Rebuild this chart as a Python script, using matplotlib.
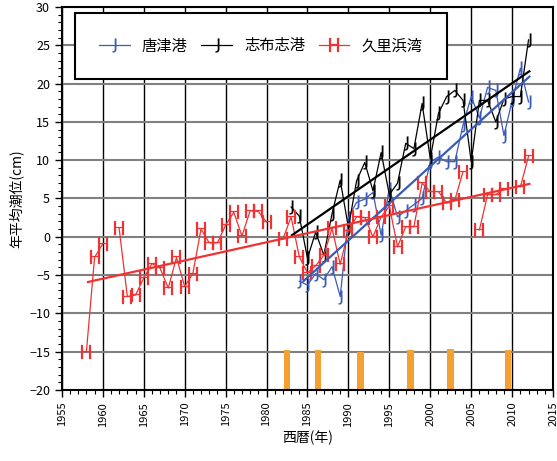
import numpy as np
import matplotlib
matplotlib.use('Agg')
import matplotlib.pyplot as plt
from matplotlib.ticker import MultipleLocator

plt.rcParams['font.family'] = ['Noto Sans CJK JP', 'DejaVu Sans']
plt.rcParams['axes.unicode_minus'] = True

# 唐津港
karatsu_years = list(range(1984, 2013))
karatsu = [-5.8, -6.3, -4.8, -5.6, -3.9, -7.8, 2.5, 4.5, 4.9, 5.8,
           0.2, 6.3, 2.6, 3.4, 4.2, 5.0, 9.8, 10.4, 9.8, 9.8,
           14.6, 18.3, 15.5, 19.5, 19.1, 13.2, 17.8, 22.0, 17.6]

# 志布志港
shibushi_years = list(range(1983, 2013))
shibushi = [3.9, 2.7, -2.8, 0.6, -2.4, 3.0, 7.4, 1.2, 7.3, 9.7,
            6.0, 11.0, 5.5, 7.0, 12.2, 11.5, 17.4, 10.2, 16.1, 18.3,
            19.1, 17.8, 9.8, 17.8, 17.8, 15.0, 18.0, 18.3, 18.3, 25.7]

# 久里浜湾 (nan = 欠測)
kurihama_years = list(range(1958, 2013))
kurihama = [-15.0, -2.7, -0.9, np.nan, 1.1, -7.8, -7.6, -5.4, -3.5, -4.1,
            -6.7, -2.7, -6.5, -4.8, 1.0, -0.8, -0.8, 1.5, 3.2, 0.1,
            3.4, 3.3, 1.9, np.nan, -0.3, 2.6, -2.6, -4.7, -3.8, -2.4,
            1.1, -3.6, 0.8, 2.6, 2.5, 0.0, 2.6, 4.0, -1.3, 1.3,
            1.3, 7.0, 5.9, 5.9, 4.4, 4.8, 8.5, np.nan, 0.9, 5.5,
            5.5, 6.3, np.nan, 6.5, 10.5]

# trend lines (start / end)
karatsu_trend_x = [1984.5, 2012.1]
karatsu_trend_y = [-5.8, 20.9]
shibushi_trend_x = [1983.1, 2012.1]
shibushi_trend_y = [0.2, 21.6]
kurihama_trend_x = [1958.2, 2012.1]
kurihama_trend_y = [-5.9, 6.9]

# orange bars
event_years = [1982.5, 1986.3, 1991.5, 1997.6, 2002.5, 2009.5]
event_tops = [-14.8, -14.8, -15.0, -14.8, -14.7, -14.8]

blue = '#3a5bb8'
red = '#f03232'
orange = '#f5a033'

fig = plt.figure(figsize=(5.57, 4.61), dpi=100)
ax = fig.add_axes([0.111, 0.154, 0.882, 0.831])

ax.bar(event_years, np.array(event_tops) + 20, bottom=-20, width=0.8,
       color=orange, zorder=2)

mk = dict(markersize=10, markeredgewidth=0.15, lw=0.9, zorder=3)
l1, = ax.plot(karatsu_years, karatsu, color=blue, marker=r'$\mathrm{J}$', **mk)
l2, = ax.plot(shibushi_years, shibushi, color='k', marker=r'$\mathrm{J}$', **mk)
l3, = ax.plot(kurihama_years, kurihama, color=red, marker=r'$\mathrm{H}$', **mk)

ax.plot(karatsu_trend_x, karatsu_trend_y, color=blue, lw=1.6, zorder=4)
ax.plot(shibushi_trend_x, shibushi_trend_y, color='k', lw=1.6, zorder=4)
ax.plot(kurihama_trend_x, kurihama_trend_y, color=red, lw=1.6, zorder=4)

ax.set_xlim(1955, 2015)
ax.set_ylim(-20, 30)
ax.set_xticks(range(1955, 2016, 5))
ax.set_yticks(range(-20, 31, 5))
ax.xaxis.set_minor_locator(MultipleLocator(1))
ax.yaxis.set_minor_locator(MultipleLocator(1))
ax.tick_params(axis='x', which='major', labelsize=8, rotation=90, length=5, width=1)
ax.tick_params(axis='y', which='major', labelsize=9, length=5, width=1)
ax.tick_params(which='minor', length=3, width=0.8)

ax.set_axisbelow(True)
ax.xaxis.grid(True, color='k', lw=1)
ax.yaxis.grid(True, color='#808080', lw=1.5)
for s in ax.spines.values():
    s.set_linewidth(1.5)

ax.set_xlabel('西暦(年)', fontsize=10, labelpad=3)
ax.set_ylabel('年平均潮位(cm)', fontsize=10, labelpad=4)

leg = ax.legend([l1, l2, l3], ['唐津港', '志布志港', '久里浜湾'],
                loc='upper left', bbox_to_anchor=(0.026, 0.984), ncol=3,
                fancybox=False, edgecolor='k', framealpha=1, fontsize=11,
                borderpad=1.6, borderaxespad=0, handlelength=2.0,
                handletextpad=0.8, columnspacing=0.9, numpoints=1)
leg.get_frame().set_linewidth(1.5)

fig.savefig('out.png', dpi=100)
